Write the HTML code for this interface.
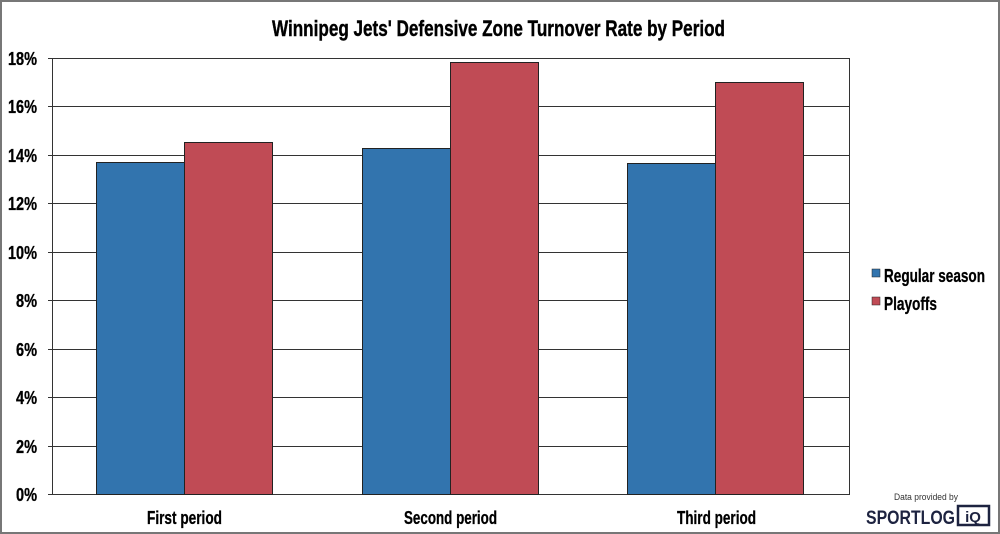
<!DOCTYPE html>
<html><head><style>
html,body{margin:0;padding:0;background:#fff;}
svg{display:block;}
text{font-family:"Liberation Sans",sans-serif;font-weight:bold;fill:#000;}
</style></head><body>
<svg width="1000" height="534" viewBox="0 0 1000 534">
<rect x="1" y="1" width="998" height="532" fill="#fff" stroke="#777" stroke-width="2"/>
<text x="272" y="36" font-size="22" textLength="453" lengthAdjust="spacingAndGlyphs" stroke="#000" stroke-width="0.4">Winnipeg Jets' Defensive Zone Turnover Rate by Period</text>
<g stroke="#333" stroke-width="1">
<line x1="48" y1="58.5" x2="850" y2="58.5"/>
<line x1="48" y1="106.5" x2="850" y2="106.5"/>
<line x1="48" y1="155.5" x2="850" y2="155.5"/>
<line x1="48" y1="203.5" x2="850" y2="203.5"/>
<line x1="48" y1="252.5" x2="850" y2="252.5"/>
<line x1="48" y1="300.5" x2="850" y2="300.5"/>
<line x1="48" y1="349.5" x2="850" y2="349.5"/>
<line x1="48" y1="397.5" x2="850" y2="397.5"/>
<line x1="48" y1="446.5" x2="850" y2="446.5"/>
<line x1="48" y1="494.5" x2="850" y2="494.5"/>
<line x1="52.5" y1="58" x2="52.5" y2="495"/>
<line x1="849.5" y1="58" x2="849.5" y2="495"/>
</g>
<g font-size="18" stroke="#000" stroke-width="0.3">
<text x="8" y="65" textLength="29" lengthAdjust="spacingAndGlyphs">18%</text>
<text x="8" y="113" textLength="29" lengthAdjust="spacingAndGlyphs">16%</text>
<text x="8" y="162" textLength="29" lengthAdjust="spacingAndGlyphs">14%</text>
<text x="8" y="210" textLength="29" lengthAdjust="spacingAndGlyphs">12%</text>
<text x="8" y="259" textLength="29" lengthAdjust="spacingAndGlyphs">10%</text>
<text x="16" y="307" textLength="21" lengthAdjust="spacingAndGlyphs">8%</text>
<text x="16" y="356" textLength="21" lengthAdjust="spacingAndGlyphs">6%</text>
<text x="16" y="404" textLength="21" lengthAdjust="spacingAndGlyphs">4%</text>
<text x="16" y="453" textLength="21" lengthAdjust="spacingAndGlyphs">2%</text>
<text x="16" y="501" textLength="21" lengthAdjust="spacingAndGlyphs">0%</text>
</g>
<g stroke="#222" stroke-width="1">
<rect x="96.5" y="162.5" width="88" height="332" fill="#3274ae"/>
<rect x="184.5" y="142.5" width="88" height="352" fill="#c04b55"/>
<rect x="362.5" y="148.5" width="88" height="346" fill="#3274ae"/>
<rect x="450.5" y="62.5" width="88" height="432" fill="#c04b55"/>
<rect x="627.5" y="163.5" width="88" height="331" fill="#3274ae"/>
<rect x="715.5" y="82.5" width="88" height="412" fill="#c04b55"/>
</g>
<g font-size="18" stroke="#000" stroke-width="0.3">
<text x="147" y="524" textLength="75" lengthAdjust="spacingAndGlyphs">First period</text>
<text x="404" y="524" textLength="93" lengthAdjust="spacingAndGlyphs">Second period</text>
<text x="677" y="524" textLength="79" lengthAdjust="spacingAndGlyphs">Third period</text>
</g>
<rect x="872" y="269" width="8" height="8" fill="#3274ae" stroke="#222" stroke-width="0.5"/>
<text x="884" y="282" font-size="18" stroke="#000" stroke-width="0.3" textLength="101" lengthAdjust="spacingAndGlyphs">Regular season</text>
<rect x="872" y="297" width="8" height="8" fill="#c04b55" stroke="#222" stroke-width="0.5"/>
<text x="884" y="310" font-size="18" stroke="#000" stroke-width="0.3" textLength="53" lengthAdjust="spacingAndGlyphs">Playoffs</text>
<text x="894" y="500" font-size="9" style="font-weight:normal;fill:#333" textLength="64" lengthAdjust="spacingAndGlyphs">Data provided by</text>
<text x="866" y="524" font-size="19" style="fill:#1d2340;font-weight:900" textLength="89" lengthAdjust="spacingAndGlyphs">SPORTLOG</text>
<rect x="958" y="506" width="31" height="19" fill="#fff" stroke="#1d2340" stroke-width="2.5"/>
<text x="973" y="522" font-size="15" text-anchor="middle" style="fill:#1d2340">iQ</text>
</svg>
</body></html>
